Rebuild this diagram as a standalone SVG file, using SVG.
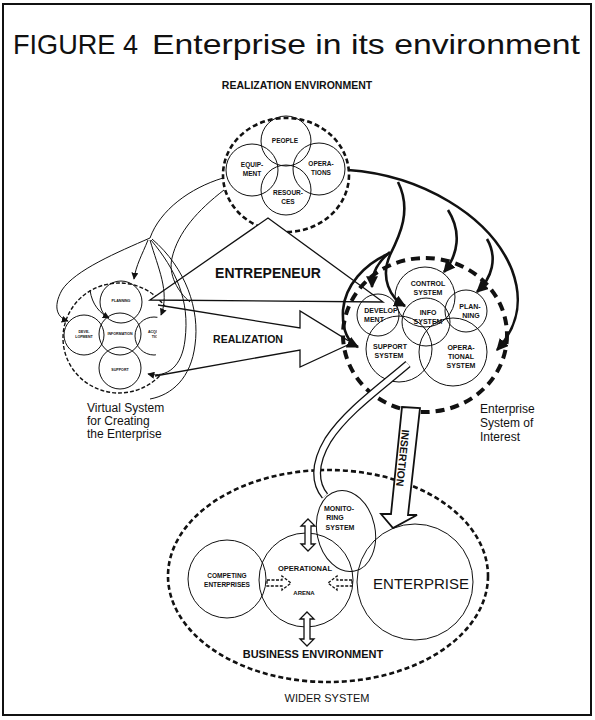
<svg xmlns="http://www.w3.org/2000/svg" width="595" height="720" viewBox="0 0 595 720">
<defs>
<style>
text{font-family:"Liberation Sans",Arial,sans-serif;fill:#111}
.b{font-weight:bold}
.c{fill:none;stroke:#111;stroke-width:1}
.t{fill:none;stroke:#111;stroke-width:1}
.k{fill:none;stroke:#111;stroke-width:2.6}
.hol{fill:#fff;stroke:#111;stroke-width:1.3}
</style>
<marker id="ah" viewBox="0 0 10 10" refX="9" refY="5" markerWidth="12" markerHeight="12" markerUnits="userSpaceOnUse" orient="auto"><path d="M0,0L10,5L0,10z" fill="#111"/></marker>
<marker id="as" viewBox="0 0 10 10" refX="9" refY="5" markerWidth="7" markerHeight="7" markerUnits="userSpaceOnUse" orient="auto"><path d="M0,0L10,5L0,10z" fill="#111"/></marker>
</defs>
<rect x="0" y="0" width="595" height="720" fill="#fff"/>
<rect x="3" y="4" width="588" height="711" fill="none" stroke="#111" stroke-width="2"/>

<g id="title">
<text x="13" y="54" font-size="28" textLength="125" lengthAdjust="spacingAndGlyphs">FIGURE 4</text>
<text x="152" y="54" font-size="28" textLength="428" lengthAdjust="spacingAndGlyphs">Enterprise in its environment</text>
</g>
<text id="lbl-real-env" class="b" x="297" y="89" font-size="10.5" text-anchor="middle">REALIZATION ENVIRONMENT</text>

<g id="realization-environment">
<ellipse cx="286" cy="175" rx="63" ry="57" fill="none" stroke="#111" stroke-width="2.6" stroke-dasharray="5 3"/>
<circle class="c" cx="286" cy="141" r="25"/>
<circle class="c" cx="252" cy="170" r="26"/>
<circle class="c" cx="319" cy="169" r="26"/>
<circle class="c" cx="286" cy="190" r="25"/>
<g class="b" font-size="6.5" text-anchor="middle">
<text x="285" y="143">PEOPLE</text>
<text x="252" y="167">EQUIP-</text><text x="252" y="176">MENT</text>
<text x="321" y="166">OPERA-</text><text x="321" y="175">TIONS</text>
<text x="288" y="195">RESOUR-</text><text x="288" y="204">CES</text>
</g>
</g>

<g id="virtual-system">
<ellipse cx="119" cy="338" rx="56" ry="55" fill="none" stroke="#111" stroke-width="1.4" stroke-dasharray="4 2"/>
<circle class="c" cx="121" cy="302" r="21"/>
<circle class="c" cx="120" cy="334" r="21"/>
<circle class="c" cx="84" cy="335" r="20"/>
<circle class="c" cx="154" cy="336" r="19"/>
<circle class="c" cx="120" cy="368" r="21"/>
<g class="b" font-size="3.6" text-anchor="middle">
<text x="121" y="302">PLANNING</text>
<text x="120" y="335">INFORMATION</text>
<text x="84" y="333">DEVE-</text><text x="84" y="338">LOPMENT</text>
<text x="156" y="333">ACQUISI-</text><text x="156" y="338">TION</text>
<text x="120" y="371">SUPPORT</text>
</g>
</g>
<g id="lbl-virtual" font-size="12">
<text x="87" y="412">Virtual System</text>
<text x="87" y="425">for Creating</text>
<text x="87" y="438">the Enterprise</text>
</g>

<g id="entrepreneur">
<polygon points="150,300 268,218 383,302" fill="#fff" stroke="#111" stroke-width="1.3"/>
<text class="b" x="268" y="278" font-size="14" text-anchor="middle">ENTREPENEUR</text>
</g>

<g id="realization">
<polyline points="158,305 300,328 300,311 352,343 300,367 300,350 155,376" fill="#fff" stroke="#111" stroke-width="1.3"/>
<text class="b" x="248" y="343" font-size="10.5" text-anchor="middle">REALIZATION</text>
</g>

<g id="enterprise-system">
<ellipse cx="425" cy="335" rx="82" ry="77" fill="none" stroke="#111" stroke-width="4" stroke-dasharray="9 6"/>
<circle class="c" cx="425" cy="297" r="30"/>
<circle class="c" cx="378" cy="315" r="21"/>
<circle class="c" cx="426" cy="322" r="24"/>
<circle class="c" cx="466" cy="311" r="21"/>
<circle class="c" cx="399" cy="349" r="33"/>
<circle class="c" cx="453" cy="352" r="34"/>
<g class="b" font-size="7" text-anchor="middle">
<text x="428" y="286">CONTROL</text><text x="428" y="295">SYSTEM</text>
<text x="381" y="313">DEVELOP</text><text x="374" y="322">MENT</text>
<text x="428" y="315">INFO</text><text x="428" y="324">SYSTEM</text>
<text x="470" y="309">PLAN-</text><text x="471" y="318">NING</text>
<text x="390" y="349">SUPPORT</text><text x="389" y="358">SYSTEM</text>
<text x="461" y="350">OPERA-</text><text x="461" y="359">TIONAL</text><text x="461" y="368">SYSTEM</text>
</g>
</g>
<g id="lbl-enterprise-system" font-size="12">
<text x="480" y="413">Enterprise</text>
<text x="480" y="427">System of</text>
<text x="480" y="441">Interest</text>
</g>

<g id="business-environment">
<ellipse cx="328" cy="576" rx="160" ry="106" fill="none" stroke="#111" stroke-width="2.6" stroke-dasharray="5 3"/>
<circle class="c" cx="227" cy="579" r="39"/>
<circle class="c" cx="306" cy="580" r="47"/>
<circle class="c" cx="415" cy="582" r="58"/>
<ellipse class="c" cx="346" cy="531" rx="29" ry="41" transform="rotate(-12 346 531)"/>
<g class="b" text-anchor="middle">
<text x="227" y="578" font-size="6.5">COMPETING</text><text x="227" y="587" font-size="6.5">ENTERPRISES</text>
<text x="305" y="571" font-size="7.5">OPERATIONAL</text>
<text x="304" y="595" font-size="6">ARENA</text>
<text x="339" y="511" font-size="7">MONITO-</text><text x="335" y="520" font-size="7">RING</text><text x="340" y="530" font-size="7">SYSTEM</text>
<text x="421" y="589" font-size="15" font-weight="normal">ENTERPRISE</text>
</g>
<polygon class="hol" points="308,519 315,526 311,526 311,544 315,544 308,551 301,544 305,544 305,526 301,526"/>
<polygon class="hol" points="307,612 314,619 310,619 310,639 314,639 307,646 300,639 304,639 304,619 300,619"/>
<polygon class="hol" stroke-dasharray="3 1.5" points="267,580 282,580 282,576 291,583 282,590 282,586 267,586"/>
<polygon class="hol" stroke-dasharray="3 1.5" points="352,580 337,580 337,576 328,583 337,590 337,586 352,586"/>
<text class="b" x="313" y="658" font-size="11" text-anchor="middle">BUSINESS ENVIRONMENT</text>
</g>
<text id="lbl-wider" x="327" y="702" font-size="11" text-anchor="middle">WIDER SYSTEM</text>

<g id="connectors">
<!-- realization env to virtual system -->
<path class="t" d="M223,178 C190,188 160,210 150,238"/>
<path class="t" d="M150,238 C118,252 75,270 62,290 C52,308 58,318 68,321" marker-end="url(#as)"/>
<path class="t" d="M148,240 C142,255 136,265 134,279" marker-end="url(#as)"/>
<path class="t" d="M150,240 C158,268 170,292 161,315" marker-end="url(#as)"/>
<path class="t" d="M151,240 C176,270 190,300 185,340 C182,366 168,378 148,374" marker-end="url(#as)"/>
<path class="t" d="M152,239 C186,268 200,310 195,345 C191,378 172,395 150,399"/>
<path class="t" d="M224,190 C198,210 178,232 172,258 C168,275 178,292 190,302"/>
<path class="t" d="M90,290 C92,305 100,313 109,318" marker-end="url(#as)"/>
<!-- operations to enterprise system -->
<path class="k" d="M348,170 C420,175 490,215 512,270 C525,305 515,330 497,350" marker-end="url(#ah)"/>
<path class="k" d="M398,182 C412,210 400,235 390,255 C380,278 390,298 405,306" marker-end="url(#ah)"/>
<path class="k" d="M390,252 C378,262 372,272 372,287" marker-end="url(#ah)"/>
<path class="k" d="M388,254 C365,264 345,285 343,310 C342,330 348,342 358,347" marker-end="url(#ah)"/>
<path class="k" d="M448,210 C462,232 458,255 444,272" marker-end="url(#ah)"/>
<path class="k" d="M487,239 C498,258 492,278 477,292" marker-end="url(#ah)"/>
<!-- support system to monitoring system (hollow band) -->
<path d="M408,364 C380,388 346,412 328,440 C313,465 315,484 325,496" fill="none" stroke="#111" stroke-width="8"/>
<path d="M408,364 C380,388 346,412 328,440 C313,465 315,484 325,496" fill="none" stroke="#fff" stroke-width="5.4"/>
<!-- insertion -->
<g id="insertion">
<polygon points="402,407 420,408 408,515 417,515 393,528 381,514 391,514" fill="#fff" stroke="#111" stroke-width="1.8"/>
<text class="b" transform="translate(403,458) rotate(96)" font-size="10.5" text-anchor="middle" dy="4">INSERTION</text>
</g>
</g>
</svg>
